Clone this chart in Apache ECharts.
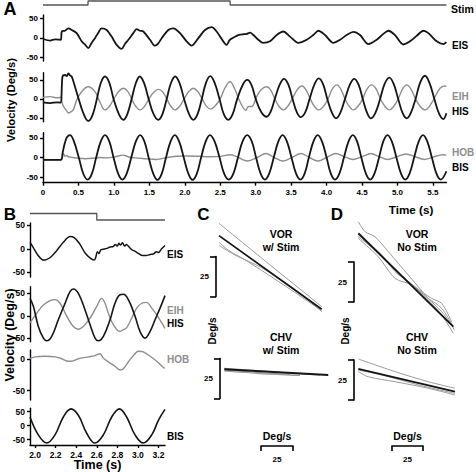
<!DOCTYPE html>
<html><head><meta charset="utf-8">
<script src="https://cdn.jsdelivr.net/npm/echarts@6/dist/echarts.min.js"></script>
<style>html,body{margin:0;padding:0;background:#fff}#c{width:476px;height:472px}</style>
</head><body><div id="c"></div>
<script>
// ---------------- DATA ----------------
// Panel A : time (s) , velocity (deg/s)
const aTimeTicks  = [0,0.5,1,1.5,2,2.5,3,3.5,4,4.5,5,5.5];
const aTimeLabels = ['0','0.5','1.0','1.5','2.0','2.5','3.0','3.5','4.0','4.5','5.0','5.5'];
const velTicks  = [-50,0,50];
const velLabels = ['-50','0','50'];
const hobTicks  = [-50,0];
const hobLabels = ['-50','0'];

const aStim = [[0,0],[0.635,1],[2.64,0],[5.69,0]];
const aEIS = [[0.005,-3],[0.10,-7],[0.17,-4],[0.25,-5],[0.265,16],[0.31,18],[0.357,24],[0.404,20],[0.475,12],[0.545,-9],[0.592,-17],[0.639,-26],[0.686,-13],[0.733,-1],[0.78,13],[0.827,24],[0.898,20],[0.968,3],[1.039,-18],[1.11,-28],[1.157,-15],[1.204,-5],[1.274,12],[1.321,22],[1.368,18],[1.415,16],[1.509,-5],[1.58,-20],[1.627,-14],[1.674,-1],[1.768,20],[1.838,24],[1.932,12],[2.026,-9],[2.096,-20],[2.191,-1],[2.285,20],[2.379,27],[2.449,16],[2.543,-9],[2.59,-18],[2.637,-5],[2.731,5],[2.779,8],[2.826,9],[2.873,10],[2.92,13],[2.967,7],[3.037,-5],[3.108,-13],[3.202,-9],[3.296,7],[3.39,16],[3.484,3],[3.602,-13],[3.719,-5],[3.813,7],[3.884,18],[3.978,7],[4.095,-13],[4.19,-5],[4.284,7],[4.378,15],[4.472,7],[4.589,-16],[4.707,-5],[4.801,10],[4.871,18],[4.965,7],[5.083,-17],[5.177,-9],[5.271,5],[5.365,18],[5.436,12],[5.553,-9],[5.647,-16],[5.69,-11]];
const aHIS = [[0,-9],[0.1,-11],[0.2,-9],[0.25,-10],[0.265,30],[0.275,59],[0.31,63],[0.335,60],[0.357,67],[0.38,62],[0.404,59],[0.43,45],[0.5,2],[0.57,-38],[0.639,-58],[0.70,-42],[0.76,0],[0.815,42],[0.874,59],[0.935,43],[0.995,0],[1.07,-40],[1.134,-55],[1.19,-40],[1.25,0],[1.31,42],[1.365,59],[1.425,42],[1.49,0],[1.56,-40],[1.627,-55],[1.685,-40],[1.745,0],[1.805,42],[1.865,59],[1.925,42],[1.99,0],[2.06,-40],[2.12,-55],[2.18,-40],[2.24,0],[2.3,43],[2.36,60],[2.42,43],[2.49,0],[2.55,-40],[2.614,-55],[2.675,-40],[2.74,0],[2.82,38],[2.88,50],[2.94,37],[3.0,0],[3.08,-35],[3.155,-47],[3.21,-34],[3.27,0],[3.34,38],[3.40,53],[3.46,38],[3.52,0],[3.58,-35],[3.634,-48],[3.7,-35],[3.76,0],[3.83,39],[3.89,54],[3.95,39],[4.01,0],[4.075,-36],[4.133,-51],[4.195,-36],[4.26,0],[4.33,38],[4.39,53],[4.45,38],[4.51,0],[4.57,-36],[4.626,-51],[4.69,-36],[4.755,0],[4.82,40],[4.885,56],[4.945,40],[5.01,0],[5.07,-36],[5.13,-51],[5.19,-36],[5.255,0],[5.32,43],[5.388,61],[5.45,43],[5.52,0],[5.585,-38],[5.647,-53],[5.69,-38]];
const aEIH = [[0,4],[0.1,6],[0.2,3],[0.25,4],[0.27,-10],[0.29,-20],[0.33,-30],[0.36,-37],[0.4,-33],[0.43,-28],[0.475,-3],[0.545,19],[0.639,32],[0.733,19],[0.8,-7],[0.874,-29],[0.935,-20],[1.0,0],[1.07,20],[1.134,28],[1.195,20],[1.25,0],[1.31,-20],[1.368,-29],[1.43,-20],[1.495,0],[1.565,18],[1.627,25],[1.69,18],[1.745,0],[1.805,-20],[1.862,-29],[1.925,-20],[1.99,0],[2.06,20],[2.12,28],[2.18,20],[2.245,0],[2.305,-19],[2.365,-27],[2.43,-18],[2.5,0],[2.57,30],[2.637,45],[2.7,28],[2.76,0],[2.82,-22],[2.86,-30],[2.9,-20],[2.944,-20],[3.014,6],[3.08,25],[3.155,32],[3.21,24],[3.27,0],[3.33,-20],[3.39,-29],[3.45,-20],[3.515,0],[3.585,24],[3.65,34],[3.71,24],[3.77,0],[3.83,-20],[3.893,-29],[3.955,-20],[4.02,0],[4.08,26],[4.143,37],[4.2,26],[4.26,0],[4.32,-20],[4.378,-29],[4.44,-20],[4.51,0],[4.57,26],[4.636,37],[4.7,26],[4.76,0],[4.825,-20],[4.885,-29],[4.945,-20],[5.01,0],[5.07,26],[5.13,37],[5.19,26],[5.255,0],[5.32,-20],[5.388,-29],[5.48,-11],[5.6,28],[5.67,34],[5.69,33]];
const aBIS = [[0,-6],[0.12,-6],[0.25,-6],[0.28,15],[0.31,38],[0.34,52],[0.38,57],[0.43,44],[0.505,0],[0.57,-42],[0.63,-56],[0.69,-41],[0.75,0],[0.815,41],[0.875,57],[0.935,41],[0.995,0],[1.06,-41],[1.12,-56],[1.18,-41],[1.245,0],[1.31,41],[1.37,57],[1.43,41],[1.49,0],[1.555,-41],[1.615,-57],[1.675,-41],[1.735,0],[1.8,41],[1.86,57],[1.92,41],[1.985,0],[2.05,-41],[2.11,-57],[2.17,-41],[2.23,0],[2.295,41],[2.355,57],[2.42,41],[2.49,0],[2.555,-41],[2.62,-56],[2.685,-41],[2.75,0],[2.815,41],[2.88,57],[2.945,41],[3.005,0],[3.07,-41],[3.13,-56],[3.19,-41],[3.255,0],[3.32,41],[3.38,57],[3.44,41],[3.505,0],[3.57,-41],[3.63,-56],[3.69,-41],[3.75,0],[3.815,41],[3.875,57],[3.935,41],[4.0,0],[4.06,-41],[4.12,-56],[4.18,-41],[4.245,0],[4.31,41],[4.37,57],[4.43,41],[4.49,0],[4.555,-41],[4.615,-56],[4.675,-41],[4.74,0],[4.8,41],[4.86,57],[4.92,41],[4.985,0],[5.05,-41],[5.11,-56],[5.17,-41],[5.235,0],[5.3,41],[5.36,57],[5.42,41],[5.485,0],[5.55,-41],[5.61,-56],[5.69,-35]];
const aHOB = [[0,-6],[0.12,-6],[0.25,-6],[0.27,4],[0.287,10],[0.31,3],[0.33,5],[0.36,2],[0.42,0],[0.5,-2],[0.6,-3],[0.7,-2],[0.8,0],[0.9,-1],[1.0,1],[1.13,6],[1.2,2],[1.3,-1],[1.45,-3],[1.6,-5],[1.75,0],[1.88,3],[2.03,4],[2.2,3],[2.35,2],[2.5,3],[2.64,7],[2.72,3],[2.8,-4],[2.887,-9],[3.02,0],[3.146,10],[3.26,0],[3.38,-9],[3.51,0],[3.64,10],[3.76,0],[3.874,-9],[4.0,0],[4.13,10],[4.25,2],[4.368,-5],[4.5,2],[4.626,10],[4.74,2],[4.862,-5],[4.99,2],[5.12,9],[5.25,2],[5.378,-5],[5.5,1],[5.636,7],[5.69,6]];

// Panel B
const bTimeTicks  = [2.0,2.2,2.4,2.6,2.8,3.0,3.2];
const bTimeLabels = ['2.0','2.2','2.4','2.6','2.8','3.0','3.2'];
const bStim = [[1.951,1],[2.6,0],[3.263,0]];
const bEIS = [[1.951,14],[1.99,0],[2.03,-14],[2.08,-24],[2.11,-23],[2.15,-18],[2.21,-4],[2.275,14],[2.34,26],[2.38,24],[2.43,12],[2.49,-10],[2.55,-22],[2.575,-24],[2.59,-18],[2.605,-6],[2.62,-10],[2.64,-2],[2.66,-1],[2.7,1],[2.73,4],[2.76,5],[2.78,9],[2.8,6],[2.815,12],[2.83,8],[2.85,13],[2.87,6],[2.89,9],[2.91,5],[2.94,-2],[2.97,-5],[3.0,-9],[3.04,-14],[3.08,-14],[3.12,-12],[3.15,-11],[3.18,-6],[3.2,-8],[3.23,0],[3.263,7]];
const bHIS = [[1.951,39],[1.984,21],[2.032,-24],[2.081,-50],[2.114,-56],[2.162,-46],[2.226,-9],[2.292,28],[2.34,54],[2.372,60],[2.421,50],[2.486,13],[2.535,-20],[2.583,-50],[2.615,-56],[2.664,-46],[2.729,-9],[2.777,28],[2.826,47],[2.858,48],[2.907,36],[2.972,-1],[3.02,-35],[3.069,-50],[3.118,-35],[3.166,-9],[3.215,17],[3.263,45]];
const bEIH = [[1.951,-16],[2.017,6],[2.081,24],[2.146,34],[2.194,36],[2.243,28],[2.308,-1],[2.372,-24],[2.421,-30],[2.469,-24],[2.535,-5],[2.6,21],[2.648,39],[2.68,28],[2.712,6],[2.761,-20],[2.826,-35],[2.858,-31],[2.89,-27],[2.94,-5],[2.988,17],[3.037,28],[3.085,30],[3.134,17],[3.183,2],[3.231,-16],[3.263,-28]];
const bHOB = [[1.951,1],[2.0,4],[2.097,5],[2.194,4],[2.259,1],[2.324,-3],[2.356,-3],[2.421,1],[2.518,4],[2.583,6],[2.632,9],[2.664,2],[2.712,-4],[2.777,-11],[2.826,-17],[2.858,-15],[2.907,-4],[2.955,6],[3.004,13],[3.052,12],[3.118,5],[3.183,-3],[3.247,-13],[3.263,-14]];
const bBIS = [[1.951,31],[2.032,-33],[2.114,-62],[2.194,-33],[2.275,31],[2.35,60],[2.421,37],[2.502,-27],[2.583,-62],[2.664,-33],[2.745,31],[2.82,60],[2.89,31],[2.972,-33],[3.052,-62],[3.134,-33],[3.2,20],[3.263,58]];

// Panels C / D  (Deg/s vs Deg/s, drawn without axes)
const scaleBar = 25;
const cVorBlack = [[3.1,47.1],[83.4,1.1]];
const cVorGray = [
  [[3.1,54.8],[36.5,33],[83.4,2.7]],
  [[3.1,43],[10.4,38],[23.4,32],[49.5,18.5],[83.4,0.2]],
  [[3.1,41],[15.6,35],[36.5,27],[62.5,13.5],[83.4,-0.4]]
];
const cChvBlack = [[7.3,21.1],[88.5,17.5]];
const cChvGray = [
  [[7.3,21.7],[50.8,19.1],[82,17.5]],
  [[7.3,20],[35.2,18.4],[66.4,17.2]],
  [[7.3,20.6],[27.3,19.4],[58.6,17.8]]
];
const dVorBlack = [[2.6,63.6],[76.8,5.2]];
const dVorGray = [
  [[2.6,70.8],[7.8,64.6],[15.6,61.4],[26,52.1],[41.6,37.5],[57.3,22.9],[67.7,14.6],[75.5,6.3],[77.6,3.1]],
  [[2.6,62.5],[20.9,50],[31.3,39.6],[41.6,33.3],[57.3,22.9],[67.7,16.7],[76.8,5.2]],
  [[2.6,60.4],[18.2,48.9],[31.3,35.4],[44.3,31.3],[57.3,21.9],[67.7,12.5],[76.8,1.1]],
  [[2.6,61.4],[15.6,53.1],[31.3,40.6],[46.9,30.2],[59.9,22.9],[67.7,19.8],[75.5,8.3]]
];
const dChvBlack = [[2.6,21.3],[78.1,7.1]];
const dChvGray = [
  [[2.6,27.5],[31.3,19.6],[57.3,13.3],[78.1,9.2]],
  [[2.6,19.6],[10.4,16.4],[31.3,13.3],[57.3,9.2],[78.1,5]],
  [[2.6,20.6],[20.9,17.5],[52.1,10.8],[78.1,6]]
];

// ---------------- STYLE / LAYOUT ----------------
const FONT = '"Liberation Sans", Arial, Helvetica, sans-serif';
const BLACK = '#151515', GRAY = '#8e8e8e', LGRAY = '#9a9a9a';
const grids = [], xAxes = [], yAxes = [], series = [];

function fmt(ticks, labels){ return function(v){ const i = ticks.findIndex(t => Math.abs(t - v) < 1e-6); return i >= 0 ? labels[i] : ''; }; }
function hiddenAxis(min, max){ return {type:'value', show:false, min:min, max:max, splitLine:{show:false}}; }
function addGrid(g, xa, ya){
  grids.push(Object.assign({containLabel:false}, g));
  const i = grids.length - 1;
  xAxes.push(Object.assign({gridIndex:i}, xa));
  yAxes.push(Object.assign({gridIndex:i}, ya));
  return i;
}
function traceY(min, max, ticks, labels, fs){
  return {type:'value', min:min, max:max, position:'left',
    axisLine:{show:true, onZero:false, lineStyle:{color:'#000', width:1.4}},
    axisTick:{show:true, length:3, customValues:ticks, lineStyle:{color:'#000', width:1.4}},
    axisLabel:{show:true, customValues:ticks, formatter:fmt(ticks, labels), fontSize:fs, fontWeight:'bold', color:'#000', fontFamily:FONT, margin:5},
    splitLine:{show:false}};
}
function traceX(min, max, ticks, labels, fs, margin){
  return {type:'value', min:min, max:max, position:'bottom',
    axisLine:{show:true, onZero:false, lineStyle:{color:'#000', width:1.4}},
    axisTick:{show:true, length:3, customValues:ticks, lineStyle:{color:'#000', width:1.4}},
    axisLabel:{show:true, customValues:ticks, formatter:fmt(ticks, labels), fontSize:fs, fontWeight:'bold', color:'#000', fontFamily:FONT, margin:margin},
    splitLine:{show:false}};
}
function line(gi, data, color, width, smooth){
  series.push({type:'line', xAxisIndex:gi, yAxisIndex:gi, data:data, symbol:'none', showSymbol:false,
    smooth:smooth, clip:false, silent:true, animation:false, lineStyle:{color:color, width:width}});
}
function stepLine(gi, data, color){
  series.push({type:'line', xAxisIndex:gi, yAxisIndex:gi, data:data, symbol:'none', step:'end',
    clip:false, silent:true, animation:false, lineStyle:{color:color, width:1.3}});
}
function vBar(left, top, h){
  addGrid({left:left, top:top, width:1, height:h}, hiddenAxis(0,1),
    {type:'value', min:0, max:scaleBar, position:'left',
     axisLine:{show:true, onZero:false, lineStyle:{color:'#000', width:1.6}},
     axisTick:{show:true, length:6, customValues:[0, scaleBar], lineStyle:{color:'#000', width:1.6}},
     axisLabel:{show:false}, splitLine:{show:false},
     name:String(scaleBar), nameLocation:'middle', nameRotate:0, nameGap:7,
     nameTextStyle:{fontSize:8, fontWeight:'bold', color:'#000', fontFamily:FONT}});
}
function hBar(left, top, w){
  addGrid({left:left, top:top, width:w, height:1},
    {type:'value', min:0, max:scaleBar, position:'bottom',
     axisLine:{show:true, onZero:false, lineStyle:{color:'#000', width:1.6}},
     axisTick:{show:true, length:5, customValues:[0, scaleBar], lineStyle:{color:'#000', width:1.6}},
     axisLabel:{show:false}, splitLine:{show:false},
     name:String(scaleBar), nameLocation:'middle', nameGap:9,
     nameTextStyle:{fontSize:8, fontWeight:'bold', color:'#000', fontFamily:FONT}},
    hiddenAxis(0,1));
}

// Panel A
const AX = {left:43, width:403.4}, aMin = 0, aMax = 5.69;
let g = addGrid(Object.assign({top:1, height:4}, AX), hiddenAxis(aMin,aMax), hiddenAxis(0,1));
stepLine(g, aStim, '#555');
g = addGrid(Object.assign({top:15, height:46}, AX), hiddenAxis(aMin,aMax), traceY(-59,58,velTicks,velLabels,8));
line(g, aEIS, BLACK, 1.8, 0.3);
g = addGrid(Object.assign({top:72.7, height:49}, AX), hiddenAxis(aMin,aMax), traceY(-60,69,velTicks,velLabels,8));
line(g, aEIH, GRAY, 1.4, 0.4);
line(g, aHIS, BLACK, 1.8, 0.4);
g = addGrid(Object.assign({top:132.7, height:50}, AX), traceX(aMin,aMax,aTimeTicks,aTimeLabels,8,6), traceY(-64,63,velTicks,velLabels,8));
line(g, aHOB, GRAY, 1.4, 0.3);
line(g, aBIS, BLACK, 1.8, 0.4);

// Panel B
const BX = {left:30, width:135}, bMin = 1.951, bMax = 3.263;
g = addGrid(Object.assign({top:213.5, height:6.5}, BX), hiddenAxis(bMin,bMax), hiddenAxis(0,1));
stepLine(g, bStim, '#555');
g = addGrid(Object.assign({top:223, height:54}, BX), hiddenAxis(bMin,bMax), traceY(-60,55,velTicks,velLabels,8.5));
line(g, bEIS, BLACK, 1.5, 0.3);
g = addGrid(Object.assign({top:286.7, height:55}, BX), hiddenAxis(bMin,bMax), traceY(-58,65,velTicks,velLabels,8.5));
line(g, bEIH, GRAY, 1.4, 0.4);
line(g, bHIS, BLACK, 1.6, 0.4);
g = addGrid(Object.assign({top:350, height:50}, BX), hiddenAxis(bMin,bMax), traceY(-65,15,hobTicks,hobLabels,8.5));
line(g, bHOB, GRAY, 1.4, 0.3);
g = addGrid(Object.assign({top:408.3, height:36.7}, BX), traceX(bMin,bMax,bTimeTicks,bTimeLabels,8.5,5), traceY(-69,62,velTicks,velLabels,8.5));
line(g, bBIS, BLACK, 1.6, 0.4);

// Panels C / D
g = addGrid({left:215, top:215, width:115.2, height:96}, hiddenAxis(0,90), hiddenAxis(0,60));
cVorGray.forEach(d => line(g, d, LGRAY, 1, 0.3));
line(g, cVorBlack, BLACK, 1.8, false);
g = addGrid({left:215, top:355, width:115.2, height:48}, hiddenAxis(0,90), hiddenAxis(0,30));
cChvGray.forEach(d => line(g, d, LGRAY, 1.2, 0.3));
line(g, cChvBlack, BLACK, 1.8, false);
g = addGrid({left:355, top:215, width:102.4, height:120}, hiddenAxis(0,80), hiddenAxis(0,75));
dVorGray.forEach(d => line(g, d, LGRAY, 1, 0.3));
line(g, dVorBlack, BLACK, 1.8, false);
g = addGrid({left:355, top:355, width:102.4, height:48}, hiddenAxis(0,80), hiddenAxis(0,30));
dChvGray.forEach(d => line(g, d, LGRAY, 1, 0.3));
line(g, dChvBlack, BLACK, 1.8, false);

vBar(216, 256.5, 40);
vBar(220, 358.5, 40);
vBar(354, 262, 40);
vBar(354, 360, 40);
hBar(261, 445, 32);
hBar(392, 445, 31);

// ---------------- TEXT ----------------
function txt(x, y, text, size, color, align, rot){
  return {type:'text', x:x, y:y, rotation:rot || 0, silent:true,
    style:{text:text, fill:color || '#000', font:'bold ' + size + 'px ' + FONT,
      textAlign:align || 'left', textVerticalAlign:'middle', align:align || 'left', verticalAlign:'middle'}};
}
const texts = [
  txt(10, 9, 'A', 18, '#000', 'center'),
  txt(10, 214.5, 'B', 17, '#000', 'center'),
  txt(203.5, 214.5, 'C', 17, '#000', 'center'),
  txt(337, 214, 'D', 17, '#000', 'center'),
  txt(11, 100, 'Velocity (Deg/s)', 11.3, '#000', 'center', Math.PI/2),
  txt(10, 335, 'Velocity (Deg/s)', 12.5, '#000', 'center', Math.PI/2),
  txt(411, 209, 'Time (s)', 11.7, '#000', 'center'),
  txt(97.5, 465, 'Time (s)', 12.5, '#000', 'center'),
  txt(451, 8.5, 'Stim', 10.5),
  txt(452, 45, 'EIS', 10),
  txt(452, 96.5, 'EIH', 10, GRAY),
  txt(452, 111, 'HIS', 10),
  txt(452, 152, 'HOB', 10, GRAY),
  txt(452, 167, 'BIS', 10),
  txt(167, 254.5, 'EIS', 10),
  txt(167, 310, 'EIH', 10, GRAY),
  txt(167, 323.5, 'HIS', 10),
  txt(167, 359, 'HOB', 10, GRAY),
  txt(167, 436.5, 'BIS', 10),
  txt(281, 233.5, 'VOR', 10.5, '#000', 'center'),
  txt(281, 247, 'w/ Stim', 10.5, '#000', 'center'),
  txt(281, 336.5, 'CHV', 10.5, '#000', 'center'),
  txt(281, 349.5, 'w/ Stim', 10.5, '#000', 'center'),
  txt(417, 233.5, 'VOR', 10.5, '#000', 'center'),
  txt(417, 247, 'No Stim', 10.5, '#000', 'center'),
  txt(417, 336.5, 'CHV', 10.5, '#000', 'center'),
  txt(417, 349.5, 'No Stim', 10.5, '#000', 'center'),
  txt(212, 331, 'Deg/s', 10, '#000', 'center', Math.PI/2),
  txt(345, 331, 'Deg/s', 10, '#000', 'center', Math.PI/2),
  txt(277, 436, 'Deg/s', 10.5, '#000', 'center'),
  txt(407.5, 436, 'Deg/s', 10.5, '#000', 'center')
];

const chart = echarts.init(document.getElementById('c'), null, {renderer:'svg', width:476, height:472});
chart.setOption({
  animation:false,
  backgroundColor:'#fff',
  grid:grids, xAxis:xAxes, yAxis:yAxes, series:series,
  graphic:texts
});
</script>
</body></html>
